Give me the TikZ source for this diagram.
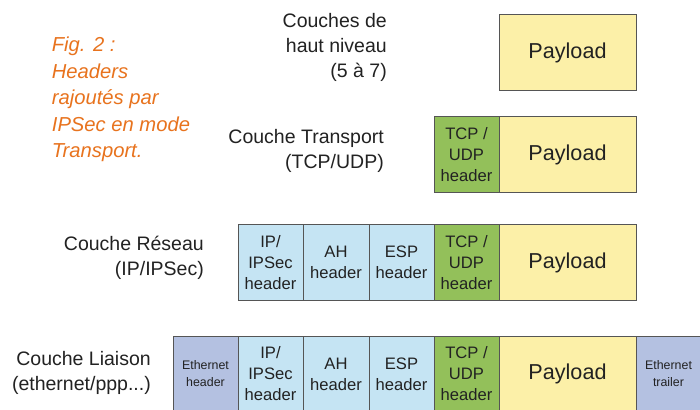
\documentclass[tikz,border=0pt]{standalone}
\usepackage{fontspec}
\setmainfont{Liberation Sans}
\definecolor{payloadcol}{HTML}{FCF0A8}
\definecolor{tcpcol}{HTML}{93C05A}
\definecolor{ipseccol}{HTML}{C5E4F3}
\definecolor{ethcol}{HTML}{B4C1E1}
\definecolor{edgecol}{HTML}{555555}
\definecolor{textcol}{HTML}{222222}
\definecolor{figcol}{HTML}{E8731E}
\tikzset{
  layerlabel/.style={anchor=east, inner sep=0pt, align=right, text=textcol,
    font=\fontsize{19.5}{25}\selectfont},
  cell/.style={draw=edgecol, line width=0.9pt, inner sep=0pt, align=center,
    text=textcol, font=\fontsize{16.6}{21}\selectfont},
  payload/.style={cell, fill=payloadcol, minimum width=137pt, font=\fontsize{21.6}{26}\selectfont},
  tcpcell/.style={cell, fill=tcpcol, minimum width=65pt},
  ipcell/.style={cell, fill=ipseccol, minimum width=65pt},
  ahcell/.style={cell, fill=ipseccol, minimum width=66pt},
  espcell/.style={cell, fill=ipseccol, minimum width=65pt},
  ethcell/.style={cell, fill=ethcol, minimum width=65pt, font=\fontsize{12.4}{17}\selectfont},
  row/.style={minimum height=76pt},
}
\begin{document}
\begin{tikzpicture}[x=1pt, y=-1pt]
\fill[white] (0,0) rectangle (700,409);
\useasboundingbox (0,0) rectangle (700,409);

% caption
\node[anchor=west, inner sep=0pt, align=left, text=figcol,
      font=\fontsize{20.2}{26.5}\selectfont\itshape] (caption) at (51.7,99.7)
  {Fig. 2 :\\Headers\\rajoutés par\\IPSec en mode\\Transport.};

% layer names
\node[layerlabel] (lbl5) at (387,47) {Couches de\\haut niveau\\(5 à 7)};
\node[layerlabel] (lbl4) at (384,150.8) {Couche Transport\\(TCP/UDP)};
\node[layerlabel] (lbl3) at (204,258) {Couche Réseau\\(IP/IPSec)};
\node[layerlabel] (lbl2) at (151,373.3) {Couche Liaison\\(ethernet/ppp...)};

% upper layers
\node[payload, row] (p5) at (567.5,52.5) {Payload};

% transport layer
\node[tcpcell, row] (t4) at (466.5,154.5) {TCP /\\UDP\\header};
\node[payload, row] (p4) at (567.5,154.5) {Payload};

% network layer
\node[ipcell, row] (ip3) at (270.5,262.5) {IP/\\IPSec\\header};
\node[ahcell, row] (ah3) at (336,262.5) {AH\\header};
\node[espcell, row] (esp3) at (401.5,262.5) {ESP\\header};
\node[tcpcell, row] (t3) at (466.5,262.5) {TCP /\\UDP\\header};
\node[payload, row] (p3) at (567.5,262.5) {Payload};

% link layer
\node[ethcell, row] (eh2) at (205.5,374) {Ethernet\\header};
\node[ipcell, row] (ip2) at (270.5,374) {IP/\\IPSec\\header};
\node[ahcell, row] (ah2) at (336,374) {AH\\header};
\node[espcell, row] (esp2) at (401.5,374) {ESP\\header};
\node[tcpcell, row] (t2) at (466.5,374) {TCP /\\UDP\\header};
\node[payload, row] (p2) at (567.5,374) {Payload};
\node[ethcell, row] (et2) at (668.5,374) {Ethernet\\trailer};
\end{tikzpicture}
\end{document}
